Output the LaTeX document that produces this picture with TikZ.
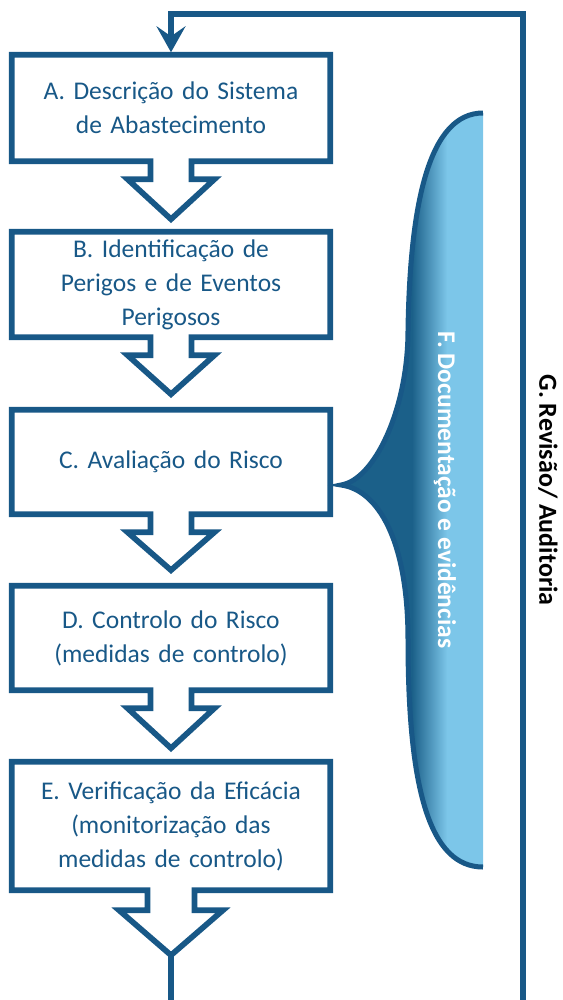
\documentclass[tikz,border=0pt]{standalone}
\usepackage{fontspec}
\setmainfont{Carlito}
\usetikzlibrary{arrows.meta,calc}

\definecolor{flowblue}{RGB}{24,88,135}
\definecolor{fdark}{RGB}{27,96,137}
\definecolor{flight}{RGB}{124,198,233}

\tikzset{
  stepbox/.style={inner sep=0pt, minimum width=318pt, text width=310pt,
    align=center, text=flowblue, font=\fontsize{25.5}{34}\selectfont},
  stepline/.style={draw=flowblue, line width=5.7pt},
  loopline/.style={draw=flowblue, line width=6pt},
  ftext/.style={text=white, font=\fontsize{25.5}{30}\selectfont\bfseries},
  gtext/.style={text=black, font=\fontsize{26}{30}\selectfont\bfseries},
}

% box outline with a down arrow tail: node, stem half, wing half, stem, head
\newcommand\tailbox[5]{%
  \coordinate (#1-tip) at ($(#1.south)+(0,#4+#5)$);
  \draw[stepline] (#1.north west) -- (#1.north east) -- (#1.south east)
    -- ($(#1.south)+(#2,0)$) -- ++(0,#4) -- ++(#3-#2,0) -- (#1-tip)
    -- ($(#1.south)+(-#3,#4)$) -- ++(#3-#2,0) -- ($(#1.south)+(-#2,0)$)
    -- (#1.south west) -- cycle;
}

\def\Fpath{(483,113) .. controls (430,113) and (410,200) .. (408,330)
  .. controls (408,410) and (374,480) .. (341,485)
  .. controls (378,490) and (408,540) .. (408,640)
  .. controls (408,790) and (430,867) .. (483,867)}

\begin{document}
\begin{tikzpicture}[x=1pt,y=-1pt]
  \useasboundingbox (0,0) rectangle (562,1000);

  \def \Steps {
    A/108/106/20.5/43.5/18/40/{A. Descrição do Sistema\\de Abastecimento},
    B/284.5/105/20.5/43.5/18/39/{B. Identificação de\\Perigos e de Eventos\\Perigosos},
    C/462/104/20.5/43.5/18/38/{C. Avaliação do Risco},
    D/638/104/20.5/43.5/18/40/{D. Controlo do Risco\\(medidas de controlo)},
    E/826/128/23.5/52/20/45/{E. Verificação da Eficácia\\(monitorização das\\medidas de controlo)}}

  \foreach \id / \y / \h / \s / \w / \sl / \hl / \txt in \Steps {
    \node[stepbox, minimum height=\h pt] (\id) at (171,\y) {\txt};
    \tailbox{\id}{\s}{\w}{\sl}{\hl}
  }

  % documentation brace
  \begin{scope}
    \clip \Fpath -- cycle;
    \fill[fdark] (330,100) rectangle (412,880);
    \shade[left color=fdark, right color=flight] (412,100) rectangle (447,880);
    \fill[flight] (447,100) rectangle (484,880);
  \end{scope}
  \draw[flowblue, line width=5pt] \Fpath;
  \node[ftext, rotate=-90] (F) at (445,490) {F. Documentação e evidências};

  % review loop
  \coordinate (loopS) at (E-tip |- 0,1000);
  \coordinate (loopR) at (523,1000);
  \coordinate (loopT) at (523,14);
  \draw[loopline] (E-tip) -- (loopS);
  \draw[loopline, -{Stealth[length=26pt, width=29pt, inset=10pt]}, shorten >=2.5pt]
    (loopR) -- (loopT) -| (A.north);
  \node[gtext, rotate=-90] (G) at (548,490) {G. Revisão/ Auditoria};
\end{tikzpicture}
\end{document}
